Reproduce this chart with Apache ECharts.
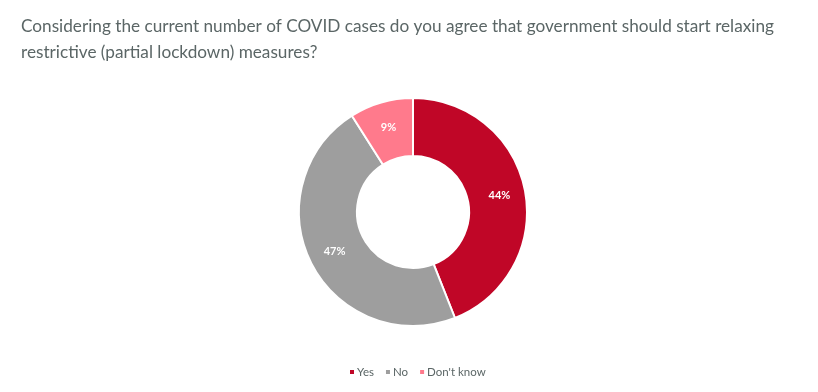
<!DOCTYPE html>
<html><head><meta charset="utf-8">
<script src="https://cdn.jsdelivr.net/npm/echarts@6/dist/echarts.min.js"></script>
<style>html,body{margin:0;padding:0;background:#fff}#c{width:818px;height:392px}</style>
</head><body><div id="c"></div>
<script>
const categories = ["Yes", "No", "Don't know"];
const values = [44, 47, 9];
const colors = ["#C00627", "#9E9E9E", "#FF7A8C"];
const titleText = "Considering the current number of COVID cases do you agree that government should start relaxing\nrestrictive (partial lockdown) measures?";

const chart = echarts.init(document.getElementById('c'), null, {renderer: 'canvas'});
chart.setOption({
  animation: false,
  backgroundColor: '#fff',
  title: {
    text: titleText,
    left: 16, top: 8,
    textStyle: {fontFamily: 'Lato', fontSize: 17.2, fontWeight: 'normal', color: '#5B6666', lineHeight: 26}
  },
  legend: {
    top: 361, left: 343,
    itemWidth: 6, itemHeight: 6, itemGap: 10, icon: 'rect',
    textStyle: {fontFamily: 'Lato', fontSize: 11.5, color: '#5B6666', padding: [0,0,0,-3]},
    data: categories
  },
  series: [{
    type: 'pie',
    center: [413, 212],
    radius: [56, 114],
    startAngle: 90,
    clockwise: true,
    itemStyle: {borderColor: '#fff', borderWidth: 2},
    label: {position: 'inside', formatter: '{c}%', color: '#fff', fontWeight: 'bold', fontSize: 11, fontFamily: 'Lato'},
    labelLine: {show: false},
    data: categories.map((c, i) => ({name: c, value: values[i], itemStyle: {color: colors[i]}}))
  }]
});
</script></body></html>
